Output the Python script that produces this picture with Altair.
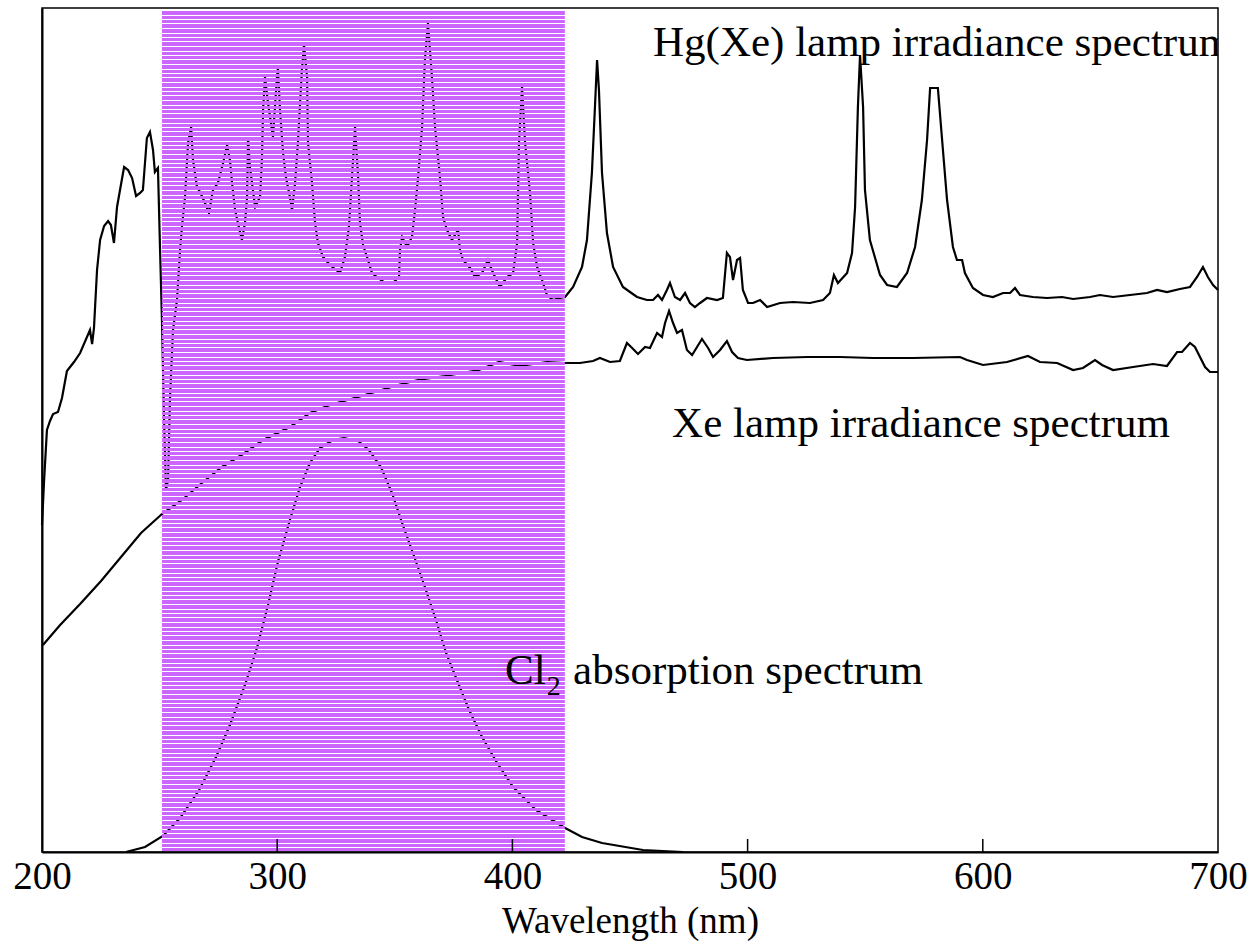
import altair as alt
import pandas as pd

# ---------------- data (wavelength in nm, relative intensity in arbitrary units) ----------
hg_wl = [200.0, 200.9, 202.1, 203.4, 204.7, 206.8, 208.5, 210.6, 213.6, 216.2, 220.4, 221.3,
         222.1, 223.4, 224.7, 226.4, 228.1, 229.3, 230.6, 231.9, 234.9, 236.6, 238.3, 240.0,
         241.7, 242.9, 244.6, 245.9, 247.2, 248.0, 249.3, 250.2, 251.0, 251.9, 252.7, 253.6,
         254.4, 255.7, 257.4, 258.7, 259.5, 260.8, 262.1, 263.4, 264.2, 265.9, 267.2, 269.3,
         271.0, 272.7, 274.8, 277.0, 278.7, 279.9, 280.8, 282.1, 283.3, 285.0, 286.3, 287.2,
         287.6, 288.4, 290.6, 292.7, 293.5, 294.0, 294.8, 296.1, 298.2, 299.9, 300.3, 301.2,
         302.5, 303.7, 305.4, 306.3, 307.6, 308.8, 310.5, 311.4, 312.7, 313.1, 314.8, 316.1,
         317.3, 319.5, 322.4, 326.7, 328.8, 330.5, 331.8, 333.1, 334.4, 335.2, 336.5, 338.6,
         340.3, 342.9, 345.8, 349.2, 351.8, 352.2, 353.1, 355.2, 357.3, 358.6, 359.9, 361.6,
         362.8, 364.1, 365.8, 367.1, 369.2, 370.5, 372.2, 374.3, 376.9, 377.7, 379.0, 382.0,
         384.1, 387.1, 389.6, 391.8, 394.7, 397.7, 400.3, 402.0, 402.8, 404.1, 405.4, 407.5,
         408.8, 410.5, 412.6, 414.7, 417.3, 420.2, 422.4, 425.8, 429.6, 431.7, 433.8, 435.1,
         436.0, 436.8, 438.1, 440.2, 442.8, 447.0, 450.0, 453.0, 457.2, 459.8, 461.9, 463.6,
         465.7, 467.0, 469.1, 471.3, 473.4, 475.5, 477.6, 479.8, 482.7, 487.0, 489.5, 491.2,
         492.5, 493.8, 495.5, 496.8, 498.0, 500.2, 502.3, 505.3, 508.3, 513.8, 519.3, 526.5,
         532.1, 535.0, 536.7, 538.4, 542.3, 544.4, 545.7, 546.9, 547.8, 549.1, 549.9, 552.0,
         556.3, 559.3, 563.5, 567.8, 571.2, 574.1, 576.3, 577.6, 580.9, 582.7, 584.8, 587.3,
         589.0, 591.2, 592.4, 595.8, 600.1, 604.3, 608.6, 611.6, 613.7, 615.8, 621.3, 627.3,
         633.7, 638.4, 645.6, 649.8, 655.4, 662.6, 669.8, 674.1, 678.3, 683.8, 688.1, 691.1,
         693.6, 695.7, 697.9, 700.0]
hg_val = [327, 372, 422, 431, 438, 440, 454, 481, 490, 499, 522, 508,
          524, 582, 612, 626, 631, 627, 609, 645, 685, 682, 674, 656,
          659, 662, 714, 720, 702, 680, 684, 602, 532, 432, 362, 372,
          452, 522, 552, 602, 625, 655, 709, 725, 692, 665, 660, 649,
          639, 662, 669, 689, 707, 692, 669, 642, 629, 612, 629, 655,
          715, 685, 645, 655, 692, 742, 775, 749, 715, 775, 784, 742,
          699, 675, 655, 642, 669, 709, 782, 807, 775, 709, 669, 629,
          609, 595, 587, 579, 595, 625, 675, 725, 675, 629, 607, 592,
          579, 574, 569, 569, 575, 602, 615, 605, 615, 642, 675, 725,
          792, 829, 775, 725, 675, 635, 622, 612, 622, 602, 592, 584,
          575, 579, 592, 579, 565, 575, 579, 609, 709, 765, 709, 659,
          609, 585, 572, 557, 552, 554, 555, 565, 585, 612, 679, 745,
          792, 762, 679, 619, 585, 565, 560, 555, 552, 552, 557, 552,
          562, 569, 555, 552, 559, 549, 545, 549, 554, 552, 554, 599,
          595, 572, 592, 594, 562, 549, 549, 552, 545, 549, 550, 549,
          552, 559, 577, 569, 579, 599, 645, 745, 797, 745, 662, 612,
          577, 567, 565, 579, 605, 652, 712, 764, 764, 712, 652, 605,
          592, 592, 579, 564, 557, 555, 559, 559, 564, 557, 555, 554,
          555, 553, 555, 557, 555, 557, 559, 562, 560, 563, 565, 575,
          585, 575, 567, 562]

xe_wl = [200.4, 207.7, 216.2, 225.1, 233.6, 242.1, 251.0, 259.5, 268.0, 276.5, 285.5, 294.0,
         305.4, 313.9, 322.4, 334.4, 342.9, 351.4, 359.9, 371.3, 385.8, 394.3, 403.2, 414.7,
         422.4, 428.7, 434.3, 437.2, 441.5, 445.7, 448.7, 450.9, 453.4, 456.4, 458.5, 461.5,
         463.6, 464.9, 466.6, 468.3, 470.0, 472.1, 474.2, 476.4, 478.5, 480.6, 483.2, 485.3,
         488.3, 491.2, 493.4, 495.9, 499.7, 510.8, 525.3, 539.3, 553.3, 570.3, 590.3, 593.3,
         600.1, 610.3, 619.2, 624.3, 631.6, 638.4, 642.6, 647.7, 650.7, 655.4, 663.9, 672.4,
         678.3, 682.6, 684.7, 688.1, 690.2, 694.5, 696.6, 700.0]
xe_val = [207, 227, 248, 271, 295, 319, 338, 352, 369, 385, 398, 412,
          425, 439, 447, 455, 461, 467, 472, 476, 482, 490, 486, 490,
          489, 489, 491, 494, 490, 491, 509, 504, 498, 505, 504, 519,
          515, 529, 541, 529, 519, 522, 502, 497, 505, 513, 504, 495,
          502, 511, 500, 494, 492, 494, 495, 495, 494, 494, 495, 492,
          487, 490, 496, 490, 489, 482, 484, 492, 487, 482, 485, 488,
          486, 500, 500, 509, 505, 485, 480, 480]

cl_wl = [235.7, 243.8, 251.4, 258.7, 266.8, 274.0, 279.9, 286.3, 291.4, 296.1, 300.3, 305.4,
         309.7, 313.9, 318.2, 323.7, 328.4, 334.4, 339.0, 344.1, 348.8, 353.1, 357.7, 362.8,
         367.5, 371.8, 376.4, 381.6, 387.1, 393.5, 400.3, 410.0, 422.4, 429.6, 438.1, 455.5,
         472.5]
cl_val = [0, 5, 16, 34, 62, 95, 127, 167, 204, 247, 290, 332,
          365, 389, 404, 412, 414, 411, 402, 385, 359, 329, 299, 265,
          232, 199, 172, 142, 115, 89, 65, 42, 24, 15, 9, 2,
          0]

tick_wl = [300, 400, 500, 600]
axis_labels = [200, 300, 400, 500, 600, 700]
band_start, band_end = 251.0, 422.3      # highlighted (filtered) wavelength band
band_top = 841                           # top of highlighted band (a.u.)

# annotations: (x in nm, y in a.u.)
ann_hg = {"wl": 459.8, "val": 796, "text": "Hg(Xe) lamp irradiance spectrum"}
ann_xe = {"wl": 467.9, "val": 415, "text": "Xe lamp irradiance spectrum"}
ann_cl = {"wl": 396.9, "val": 168, "text": "Cl"}
ann_cl_sub = {"wl": 414.6, "val": 157, "text": "2"}
ann_cl_rest = {"wl": 425.8, "val": 168, "text": " absorption spectrum"}

# ---------------- build tables ----------------
lines = pd.concat([
    pd.DataFrame({"wl": hg_wl, "val": hg_val, "series": "Hg(Xe)"}),
    pd.DataFrame({"wl": xe_wl, "val": xe_val, "series": "Xe"}),
    pd.DataFrame({"wl": cl_wl, "val": cl_val, "series": "Cl2"}),
], ignore_index=True)

# horizontal hatch pattern of the highlighted band (decoration), 1-unit white gaps
rows = []
i = 0
while True:
    y1 = round(band_top - 4.5 * i)
    y2 = max(round(band_top - 4.5 * (i + 1)) + 1, 0)
    if y1 <= 0:
        break
    rows.append({"x1": band_start, "x2": band_end, "y1": y1, "y2": y2})
    i += 1
stripes = pd.DataFrame(rows)

FONT = "Liberation Serif"
xs = alt.Scale(domain=[200, 700], nice=False, zero=False)
ys = alt.Scale(domain=[0, 844], nice=False, zero=False)
xax = alt.Axis(
    values=axis_labels, ticks=False, grid=False, domainColor="black", domainWidth=2,
    labelFont=FONT, labelFontSize=39, labelColor="black", labelPadding=5,
    labelFlush=False, labelOverlap=False, labelBound=False,
    title="Wavelength (nm)", titleFont=FONT, titleFontSize=37, titleFontWeight="normal",
    titleColor="black", titlePadding=7)
yax = alt.Axis(labels=False, ticks=False, grid=False, title=None,
               domainColor="black", domainWidth=2)

curves = alt.Chart(lines).mark_line(color="black", strokeWidth=2.2, interpolate="linear").encode(
    x=alt.X("wl:Q", scale=xs, axis=xax, title="Wavelength (nm)"),
    y=alt.Y("val:Q", scale=ys, axis=yax),
    detail="series:N",
)

band = alt.Chart(stripes).mark_rect(color="#cc66ff", opacity=1).encode(
    x=alt.X("x1:Q", scale=xs, axis=xax, title="Wavelength (nm)"), x2="x2:Q",
    y=alt.Y("y1:Q", scale=ys, axis=yax), y2="y2:Q",
)

ticks = alt.Chart(pd.DataFrame({"wl": tick_wl})).mark_rule(color="black", strokeWidth=1.5).encode(
    x=alt.X("wl:Q", scale=xs, axis=xax, title="Wavelength (nm)"), y=alt.value(831), y2=alt.value(844)
)

def label(d, size, clip=False):
    return alt.Chart(pd.DataFrame([d])).mark_text(
        font=FONT, fontSize=size, color="black", align="left", baseline="alphabetic", clip=clip
    ).encode(x=alt.X("wl:Q", scale=xs, axis=xax, title="Wavelength (nm)"),
             y=alt.Y("val:Q", scale=ys, axis=yax), text="text:N")

chart = alt.layer(
    curves, band, ticks,
    label(ann_hg, 43, clip=True), label(ann_xe, 43),
    label(ann_cl, 43), label(ann_cl_sub, 28), label(ann_cl_rest, 43),
).properties(
    width=1176, height=844,
    autosize=alt.AutoSizeParams(type="none"),
    padding={"left": 42, "top": 8, "right": 41, "bottom": 94},
    background="white",
).configure_view(stroke="black", strokeWidth=1.5)

chart.save("out.html", embed_options={"renderer": "svg", "actions": False})
